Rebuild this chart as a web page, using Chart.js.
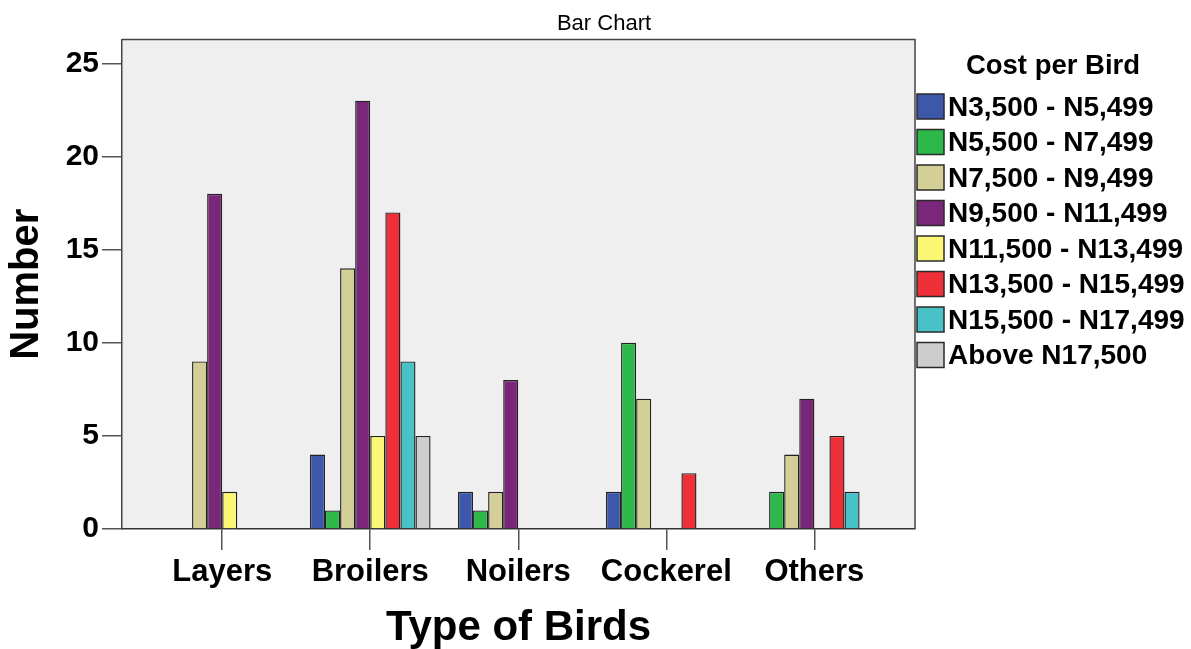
<!DOCTYPE html>
<html>
<head>
<meta charset="utf-8">
<script src="https://cdn.jsdelivr.net/npm/chart.js@4"></script>
<style>
  body { margin: 0; background: #fff; }
  #wrap { width: 1191px; height: 649px; position: relative; }
</style>
</head>
<body>
<div id="wrap"><canvas id="myChart"></canvas></div>
<script>
const categories = ['Layers', 'Broilers', 'Noilers', 'Cockerel', 'Others'];
const costLabels = ['N3,500 - N5,499', 'N5,500 - N7,499', 'N7,500 - N9,499', 'N9,500 - N11,499',
                    'N11,500 - N13,499', 'N13,500 - N15,499', 'N15,500 - N17,499', 'Above N17,500'];
const n3500 = [null, 4, 2, 2, null];
const n5500 = [null, 1, 1, 10, 2];
const n7500 = [9, 14, 2, 7, 4];
const n9500 = [18, 23, 8, null, 7];
const n11500 = [2, 5, null, null, null];
const n13500 = [null, 17, null, 3, 5];
const n15500 = [null, 9, null, null, 2];
const above17500 = [null, 5, null, null, null];
const yTicks = [0, 5, 10, 15, 20, 25];

const seriesValues = [n3500, n5500, n7500, n9500, n11500, n13500, n15500, above17500];
const colors = ['#3d57ab', '#2db84a', '#d3cf97', '#7b2779', '#fbf774', '#f03039', '#48c2c6', '#cdcdcd'];
const font = "'Liberation Sans', Arial, sans-serif";

const datasets = seriesValues.map((vals, i) => ({
    label: costLabels[i],
    data: vals.map((v, j) => ({x: j, y: v})),
    backgroundColor: colors[i],
    borderColor: '#222',
    borderWidth: 1.4,
    categoryPercentage: 0.815,
    barPercentage: 1
}));

// plot background and box
const plotBox = {
    id: 'plotBox',
    beforeDraw(chart) {
        const {ctx, chartArea: a} = chart;
        ctx.save();
        ctx.fillStyle = '#fff';
        ctx.fillRect(0, 0, chart.width, chart.height);
        ctx.fillStyle = '#efefef';
        ctx.fillRect(a.left, a.top, a.right - a.left, a.bottom - a.top);
        ctx.restore();
    },
    afterDraw(chart) {
        const {ctx, chartArea: a} = chart;
        ctx.save();
        ctx.strokeStyle = '#444';
        ctx.lineWidth = 1.5;
        ctx.beginPath();
        ctx.moveTo(a.left, a.top);
        ctx.lineTo(a.right, a.top);
        ctx.lineTo(a.right, a.bottom);
        ctx.stroke();
        ctx.restore();
    }
};

// legend on the right, SPSS style
const sideLegend = {
    id: 'sideLegend',
    afterDraw(chart) {
        const ctx = chart.ctx;
        const x0 = chart.chartArea.right + 2;
        ctx.save();
        ctx.fillStyle = '#000';
        ctx.font = 'bold 27.5px ' + font;
        ctx.textAlign = 'center';
        ctx.textBaseline = 'middle';
        ctx.fillText('Cost per Bird', 1053, 66);
        ctx.font = 'bold 28px ' + font;
        ctx.textAlign = 'left';
        chart.data.datasets.forEach((ds, i) => {
            const y = 94 + i * 35.5;
            ctx.fillStyle = ds.backgroundColor;
            ctx.fillRect(x0, y, 27, 25);
            ctx.strokeStyle = '#2a2a2a';
            ctx.lineWidth = 1.5;
            ctx.strokeRect(x0, y, 27, 25);
            ctx.fillStyle = '#000';
            ctx.fillText(ds.label, x0 + 31, y + 14);
        });
        ctx.restore();
    }
};

new Chart(document.getElementById('myChart'), {
    type: 'bar',
    data: {datasets: datasets},
    plugins: [plotBox, sideLegend],
    options: {
        responsive: true,
        maintainAspectRatio: false,
        animation: false,
        layout: {padding: {left: 17, right: 0, top: 0, bottom: 0}},
        plugins: {
            legend: {display: false},
            tooltip: {enabled: false},
            title: {
                display: true,
                text: 'Bar Chart',
                color: '#000',
                font: {family: font, size: 22, weight: 'normal'},
                padding: {top: 11, bottom: 2}
            }
        },
        scales: {
            x: {
                type: 'linear',
                min: -0.677,
                max: 4.68,
                offset: false,
                grid: {display: true, drawOnChartArea: false, drawTicks: true, tickLength: 21, tickColor: '#555', lineWidth: 1.5, offset: false},
                border: {display: true, color: '#333', width: 1.5},
                ticks: {
                    stepSize: 1,
                    includeBounds: false,
                    autoSkip: false,
                    maxRotation: 0,
                    padding: 4,
                    color: '#000',
                    font: {family: font, size: 31, weight: 'bold'},
                    callback: v => categories[v] !== undefined ? categories[v] : ''
                },
                title: {
                    display: true,
                    text: 'Type of Birds',
                    color: '#000',
                    font: {family: font, size: 42, weight: 'bold', lineHeight: 1.0},
                    padding: {top: 0, bottom: 0}
                },
                afterFit(s) { s.height = 120; }
            },
            y: {
                min: 0,
                max: 26.29,
                grid: {display: true, drawOnChartArea: false, drawTicks: true, tickLength: 20, tickColor: '#555', lineWidth: 1.5},
                border: {display: true, color: '#444', width: 1.5},
                afterBuildTicks(s) { s.ticks = yTicks.map(v => ({value: v})); },
                ticks: {
                    padding: 3,
                    color: '#000',
                    font: {family: font, size: 30, weight: 'bold'}
                },
                title: {
                    display: true,
                    text: 'Number',
                    color: '#000',
                    font: {family: font, size: 40, weight: 'bold', lineHeight: 0.5},
                    padding: {top: 0, bottom: 0}
                },
                afterFit(s) { s.width = 105; }
            },
            legendSpace: {
                position: 'right',
                display: true,
                grid: {display: false},
                border: {display: false},
                ticks: {display: false},
                afterFit(s) { s.width = 276; }
            }
        }
    }
});
</script>
</body>
</html>
